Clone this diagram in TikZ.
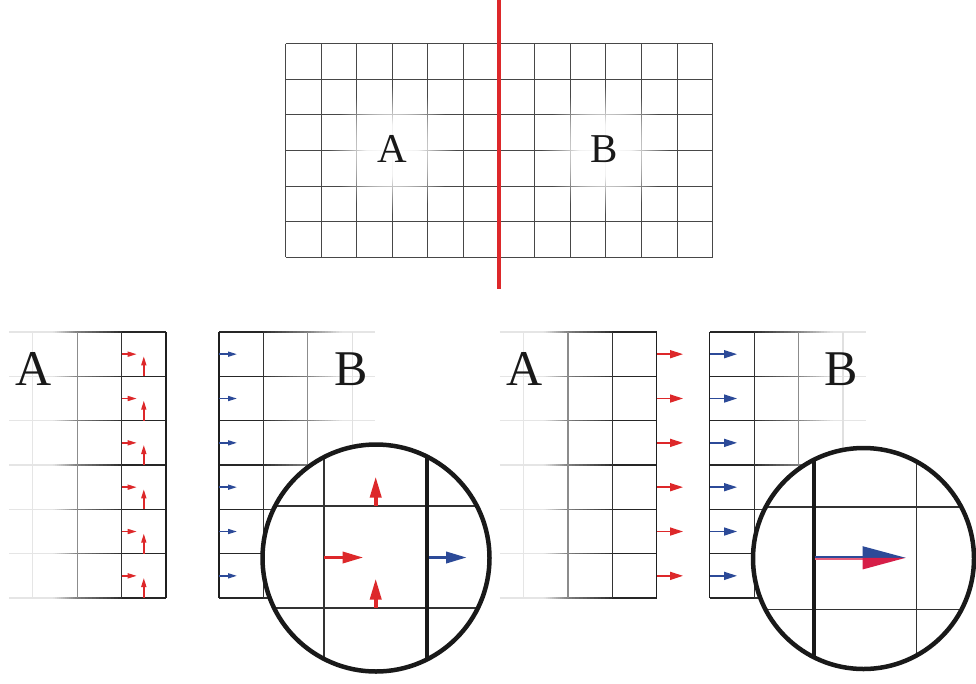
\documentclass[tikz,border=0pt]{standalone}
\usepackage{fontspec}
\setmainfont{Liberation Serif}
\usetikzlibrary{arrows.meta,fadings}
\definecolor{myred}{RGB}{221,40,42}
\definecolor{myblue}{RGB}{44,74,152}
\definecolor{mycrimson}{RGB}{214,30,72}
\definecolor{mypink}{RGB}{232,96,124}
\pgfdeclareradialshading{glowsh}{\pgfpointorigin}{color(0bp)=(pgftransparent!0); color(10bp)=(pgftransparent!8); color(25bp)=(pgftransparent!100); color(50bp)=(pgftransparent!100)}
\pgfdeclarefading{glowfade}{\pgfuseshading{glowsh}}
% graded horizontal segment: x1, x2, y, black% at x1, black% at x2
\newcommand{\gseg}[5]{%
  \foreach \k in {0,...,11}{%
    \pgfmathsetmacro{\xa}{#1+(#2-#1)*\k/12}%
    \pgfmathsetmacro{\xb}{#1+(#2-#1)*(\k+1)/12+0.25}%
    \pgfmathsetmacro{\pp}{#4+(#5-#4)*(\k+0.5)/12}%
    \draw[line width=1.2pt, color=black!\pp] (\xa,#3) -- (\xb,#3);%
  }}
\tikzset{
  topgrid/.style={line width=1.15pt, draw=black!72},
  gline/.style={line width=1.2pt},
  biglabel/.style={anchor=base, inner sep=0pt, font=\fontsize{41}{41}\selectfont, text=black!90},
  panellabel/.style={anchor=base, inner sep=0pt, font=\fontsize{50}{50}\selectfont, text=black!90},
  tinyarrow/.style={-{Triangle[length=9pt,width=5pt]}, line width=1.5pt},
  midarrow/.style={-{Triangle[length=13pt,width=8pt]}, line width=1.6pt},
  bigarrow/.style={-{Triangle[length=21pt,width=11pt]}, line width=3.6pt},
  lens/.style={line width=4.5pt, draw=black!90},
  lensthin/.style={line width=1.3pt, draw=black!80},
  lensthick/.style={line width=4pt, draw=black!90},
}
\begin{document}
\begin{tikzpicture}[x=1pt,y=-1pt]
\path[use as bounding box, fill=white] (0,0) rectangle (976,683);

% ---------- top grid (lines snapped to pixel centres) ----------
\foreach \i in {0,...,12} {
  \pgfmathsetmacro{\xx}{round(285+\i*35.6)+0.5}
  \draw[topgrid] (\xx,43.5) -- (\xx,256.5);
}
\foreach \j in {0,...,6} {
  \pgfmathsetmacro{\yy}{round(43.3+\j*35.567)+0.5}
  \draw[topgrid] (285.5,\yy) -- (712.5,\yy);
}
\fill[white, path fading=glowfade] (392,150) circle (64);
\fill[white, path fading=glowfade] (605,150) circle (64);
\node[biglabel] (labA) at (392.5,162.7) {A};
\node[biglabel] (labB) at (604.5,162.7) {B};
\draw[myred, line width=4pt] (498.8,0) -- (498.8,289);

% ---------- two bottom panels ----------
\foreach \sx in {0,490.8} {
\begin{scope}[xshift=\sx pt]
  % grid A (fading to the left)
  \foreach \j in {0,...,6} {
    \pgfmathsetmacro{\yy}{332+\j*44.333}
    \draw[gline, black!10] (9,\yy) -- (53,\yy);
    \gseg{53}{77.2}{\yy}{10}{50}
    \gseg{77.2}{121.6}{\yy}{50}{82}
    \draw[gline, black!85] (121.6,\yy) -- (166,\yy);
  }
  \draw[gline, black!10] (32.8,332) -- (32.8,598);
  \draw[gline, black!45] (77.2,332) -- (77.2,598);
  \draw[gline, black!80] (121.6,332) -- (121.6,598);
  \draw[gline, black!88] (166,332) -- (166,598);
  % grid B (fading to the right)
  \foreach \j in {0,...,6} {
    \pgfmathsetmacro{\yy}{332+\j*44.333}
    \draw[gline, black!85] (219,\yy) -- (263.4,\yy);
    \gseg{263.4}{307.8}{\yy}{82}{50}
    \gseg{307.8}{342}{\yy}{50}{10}
    \draw[gline, black!10] (342,\yy) -- (375,\yy);
  }
  \draw[gline, black!88] (219,332) -- (219,598);
  \draw[gline, black!80] (263.4,332) -- (263.4,598);
  \draw[gline, black!45] (307.8,332) -- (307.8,598);
  \draw[gline, black!12] (352.2,332) -- (352.2,598);
\end{scope}
}
\node[panellabel] (pA1) at (33.3,385) {A};
\node[panellabel] (pB1) at (350.7,385) {B};
\node[panellabel] (pA2) at (524.5,385) {A};
\node[panellabel] (pB2) at (841.5,385) {B};

% arrows, panel 1
\foreach \j in {0,...,5} {
  \pgfmathsetmacro{\yc}{354.17+\j*44.333}
  \pgfmathsetmacro{\yb}{376.33+\j*44.333}
  \draw[tinyarrow, myred] (121.6,\yc) -- (136.7,\yc);
  \draw[tinyarrow, myred] (143.8,\yb) -- (143.8,\yb-20);
  \draw[tinyarrow, myblue] (219,\yc) -- (237,\yc);
}
% arrows, panel 2
\foreach \j in {0,...,5} {
  \pgfmathsetmacro{\yc}{354.17+\j*44.333}
  \draw[midarrow, myred] (656.8,\yc) -- (683,\yc);
  \draw[midarrow, myblue] (710,\yc) -- (737,\yc);
}

% ---------- magnifier 1 ----------
\coordinate (c1) at (376,558);
\begin{scope}
  \clip (c1) circle (113.5);
  \fill[white] (c1) circle (113.5);
  \draw[lensthin] (324,440) -- (324,680);
  \draw[lensthin] (250,506) -- (500,506);
  \draw[lensthin] (250,608) -- (500,608);
  \draw[lensthick] (426.7,440) -- (426.7,680);
\end{scope}
\draw[lens] (c1) circle (113.5);
\draw[bigarrow, myred] (324,557.5) -- (363.5,557.5);
\draw[bigarrow, myred] (375.7,506) -- (375.7,476.5);
\draw[bigarrow, myred] (375.7,608) -- (375.7,578.5);
\draw[bigarrow, myblue] (428.5,557.5) -- (467,557.5);

% ---------- magnifier 2 ----------
\coordinate (c2) at (863.5,558.5);
\begin{scope}
  \clip (c2) circle (110.5);
  \fill[white] (c2) circle (110.5);
  \draw[lensthin] (916.7,440) -- (916.7,680);
  \draw[lensthin] (740,507) -- (990,507);
  \draw[lensthin] (740,609.5) -- (990,609.5);
  \draw[lensthick] (814,440) -- (814,680);
\end{scope}
\draw[lens] (c2) circle (110.5);
\fill[myblue] (815,555.6) rectangle (863,557.8);
\fill[mypink] (815,557.8) rectangle (863,559.6);
\fill[myblue] (862.7,546.2) -- (905.7,557.8) -- (862.7,557.8) -- cycle;
\fill[mycrimson] (862.7,557.8) -- (905.7,557.8) -- (862.7,569.4) -- cycle;
\end{tikzpicture}
\end{document}
